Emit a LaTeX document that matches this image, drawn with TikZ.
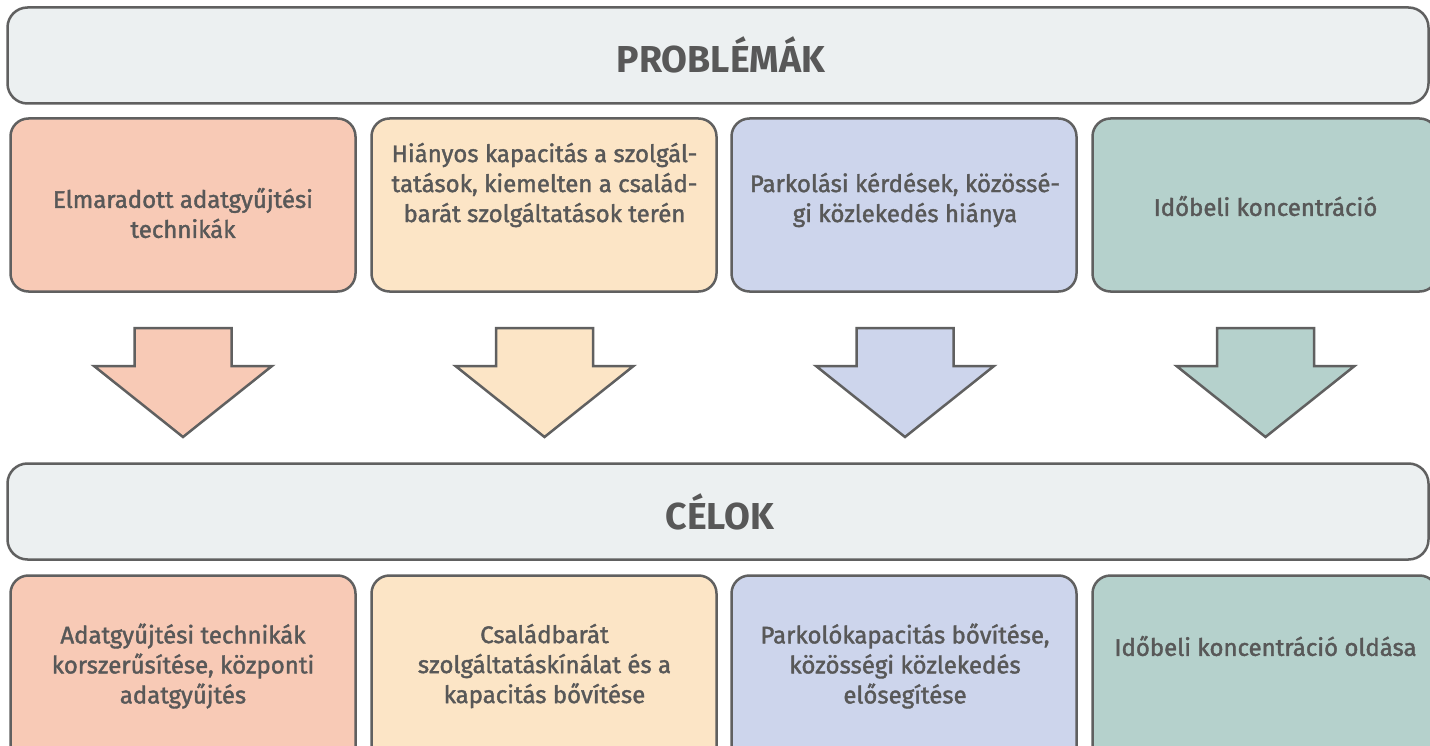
\documentclass[tikz,border=0pt]{standalone}
\usepackage{fontspec}
\setmainfont{Fira Sans}
\newfontfamily\bodyf{Fira Sans}[FakeBold=1.6]
\definecolor{lineC}{HTML}{606060}
\definecolor{txtC}{HTML}{585858}
\definecolor{banC}{HTML}{ECF0F1}
\definecolor{c1}{HTML}{F8CAB6}
\definecolor{c2}{HTML}{FCE5C6}
\definecolor{c3}{HTML}{CDD5EC}
\definecolor{c4}{HTML}{B5D1CC}
\tikzset{
  banner/.style={draw=lineC, line width=2.5pt, fill=banC, rounded corners=20pt, inner sep=0pt},
  cell/.style={draw=lineC, line width=2.5pt, rounded corners=18pt, inner sep=0pt, minimum width=345pt},
  txt/.style={text=txtC, align=center, font=\bodyf\fontsize{24}{30}\selectfont, inner sep=0pt},
  ttl/.style={text=txtC, font=\fontsize{37.5}{40}\selectfont\bfseries, inner sep=0pt},
  arr/.style={draw=lineC, line width=2.5pt, line join=miter},
}
\begin{document}
\begin{tikzpicture}[x=1pt,y=-1pt]
\useasboundingbox (0,0) rectangle (1430,746);
\clip (0,0) rectangle (1430,746);
% banners
\draw[banner] (7.5,7.5) rectangle (1428.5,103.5);
\node[ttl] (t1) at (721,55) {PROBLÉMÁK};
\draw[banner] (7.5,463.5) rectangle (1428.5,559.5);
\node[ttl] (t2) at (720,512) {CÉLOK};
% row 1 and row 2 boxes
\foreach \i/\x/\c in {1/10.5/c1, 2/371.5/c2, 3/731.5/c3, 4/1092.5/c4}{
  \draw[cell, fill=\c] (\x,118.5) rectangle ++(345,173);
  \draw[cell, fill=\c] (\x,575.5) rectangle ++(345,190);
}
% arrows
\foreach \cx/\c in {183/c1, 544.5/c2, 905/c3, 1265.5/c4}{
  \draw[arr, fill=\c] (\cx-48.5,328) -- (\cx+48.5,328) -- (\cx+48.5,366) -- (\cx+89,366)
     -- (\cx,437) -- (\cx-89,366) -- (\cx-48.5,366) -- cycle;
}
% problem texts
\node[txt] (p1) at (183,213) {Elmaradott adatgyűjtési\\technikák};
\node[txt] (p2) at (544.5,185) {Hiányos kapacitás a szolgál-\\tatások, kiemelten a család-\\barát szolgáltatások terén};
\node[txt] (p3) at (905,200) {Parkolási kérdések, közössé-\\gi közlekedés hiánya};
\node[txt] (p4) at (1265.5,206) {Időbeli koncentráció};
% goal texts
\node[txt] (g1) at (183,666) {Adatgyűjtési technikák\\korszerűsítése, központi\\adatgyűjtés};
\node[txt] (g2) at (544.5,666) {Családbarát\\szolgáltatáskínálat és a\\kapacitás bővítése};
\node[txt] (g3) at (905,666) {Parkolókapacitás bővítése,\\közösségi közlekedés\\elősegítése};
\node[txt] (g4) at (1265.5,646) {Időbeli koncentráció oldása};
\end{tikzpicture}
\end{document}
